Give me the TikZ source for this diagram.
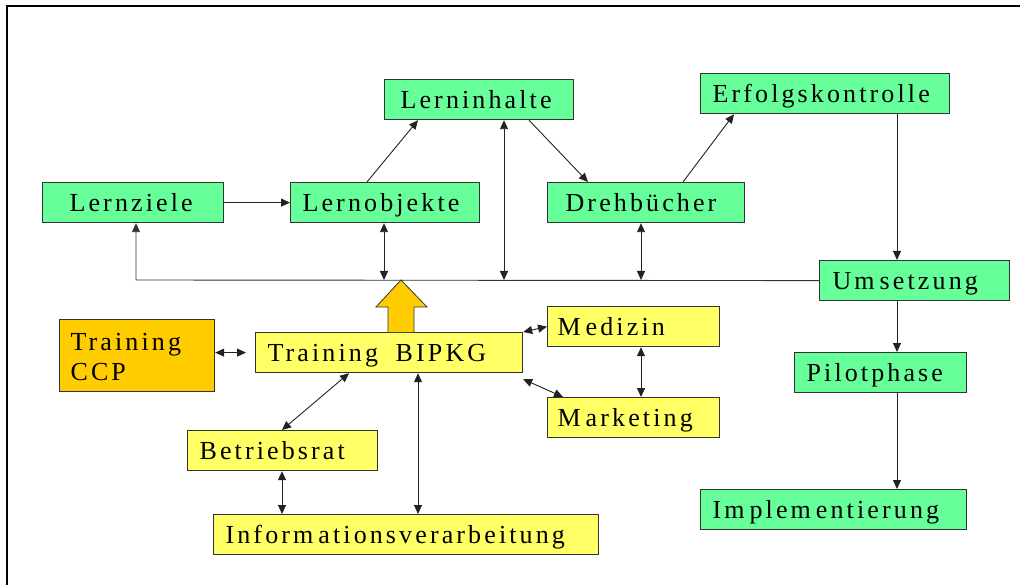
\documentclass[tikz,border=0pt]{standalone}
\usepackage{fontspec}
\usetikzlibrary{arrows.meta}
\newfontfamily\labfont[LetterSpace=12]{Liberation Serif}
\newcommand\labsize{\labfont\fontsize{26}{29.5}\selectfont}
% the renderer leaves a little extra room after m and M
\newcommand\mgap{\kern5pt}
\definecolor{boxgreen}{HTML}{66FF99}
\definecolor{boxyellow}{HTML}{FFFF66}
\definecolor{boxorange}{HTML}{FFCC00}
\definecolor{boxline}{HTML}{333333}
\definecolor{wire}{HTML}{222222}
\tikzset{
  box/.style={draw=boxline, line width=1.2pt, anchor=north west, align=left,
    minimum height=40pt, inner ysep=0pt, text height=29pt, text depth=11pt,
    font=\labsize},
  gbox/.style={box, fill=boxgreen},
  ybox/.style={box, fill=boxyellow},
  obox/.style={box, fill=boxorange, minimum height=72pt, text height=31pt, text depth=41pt},
  tip/.tip={Triangle[length=9pt,width=8pt]},
  arr/.style={draw=wire, line width=0.9pt, -tip},
  dbl/.style={draw=wire, line width=0.9pt, tip-tip},
}
\begin{document}
\begin{tikzpicture}[x=1pt, y=-1pt]
\useasboundingbox (0,0) rectangle (1020,585);
% outer frame (left and top edges)
\draw[line width=2pt] (7,585) -- (7,6) -- (1020,6);

% development chain
\node[gbox, text width=127pt, inner xsep=27pt] (lz) at (42,182) {Lernziele};
\node[gbox, text width=165pt, inner xsep=12pt] (lo) at (290,182) {Lernobjekte};
\node[gbox, text width=157pt, inner xsep=16pt] (li) at (384,79) {Lerninhalte};
\node[gbox, text width=161pt, inner xsep=18pt] (dr) at (547,182) {Drehbücher};
\node[gbox, text width=225pt, inner xsep=12pt] (ek) at (700,73) {Erfolgskontrolle};
\node[gbox, text width=164pt, inner xsep=13pt] (um) at (819,260) {Um\mgap setzung};
\node[gbox, text width=148pt, inner xsep=12pt] (pp) at (794,352) {Pilotphase};
\node[gbox, text width=242pt, inner xsep=12pt] (im) at (700,489) {Im\mgap plem\mgap entierung};

% training partners
\node[obox, text width=133pt, inner xsep=11pt] (ccp) at (59,319) {Training\\CCP};
\node[ybox, text width=243pt, inner xsep=12pt] (bi) at (255,332) {Training\hspace{9pt} BIPKG};
\node[ybox, text width=152pt, inner xsep=10pt] (me) at (547,306) {M\mgap edizin};
\node[ybox, text width=152pt, inner xsep=10pt] (ma) at (547,397) {M\mgap arketing};
\node[ybox, text width=166pt, inner xsep=12pt] (br) at (187,430) {Betriebsrat};
\node[ybox, text width=361pt, inner xsep=12pt] (iv) at (213,514) {Inform\mgap ationsverarbeitung};

% junctions on the feedback bus and the right-hand column
\coordinate (bz) at (136,280);
\coordinate (b1) at (384,280);
\coordinate (b2) at (504,280);
\coordinate (b3) at (641,280);
\coordinate (col) at (897,0);

% feedback bus from Umsetzung back to Lernziele
\draw[arr, draw=boxline] (um.west) -- (bz) -- (lz.south -| bz);
\draw[dbl] (lo.south -| b1) -- (b1);
\draw[dbl] (li.south -| b2) -- (b2);
\draw[dbl] (dr.south -| b3) -- (b3);

% forward flow
\draw[arr] (lz.east) -- (lo.west);
\draw[arr] ([xshift=77pt]lo.north west) -- ([xshift=34pt]li.south west);
\draw[arr] ([xshift=145pt]li.south west) -- ([xshift=41pt]dr.north west);
\draw[arr] ([xshift=136pt]dr.north west) -- ([xshift=34pt]ek.south west);
\draw[arr] (ek.south -| col) -- (um.north -| col);
\draw[arr] (um.south -| col) -- (pp.north -| col);
\draw[arr] (pp.south -| col) -- (im.north -| col);

% training links
\draw[dbl] (ccp.east |- bi.west) -- ([xshift=-9pt]bi.west);
\draw[dbl] (bi.north east) -- (me.west);
\draw[dbl] ([yshift=-6pt]bi.south east) -- ([xshift=16pt]ma.north west);
\draw[dbl] ([xshift=94pt]me.south west) -- ([xshift=94pt]ma.north west);
\draw[dbl] ([xshift=94pt]bi.south west) -- ([xshift=95pt]br.north west);
\draw[dbl] ([xshift=95pt]br.south west) -- ([xshift=69pt]iv.north west);
\draw[dbl] ([xshift=163pt]bi.south west) -- ([xshift=205pt]iv.north west);

% block arrow from Training BIPKG up to the bus
\filldraw[fill=boxorange, draw=boxline, line width=0.8pt]
  (388,332) -- (388,307) -- (376,307) -- (401,280) -- (427,307) -- (414,307) -- (414,332);
\end{tikzpicture}
\end{document}
